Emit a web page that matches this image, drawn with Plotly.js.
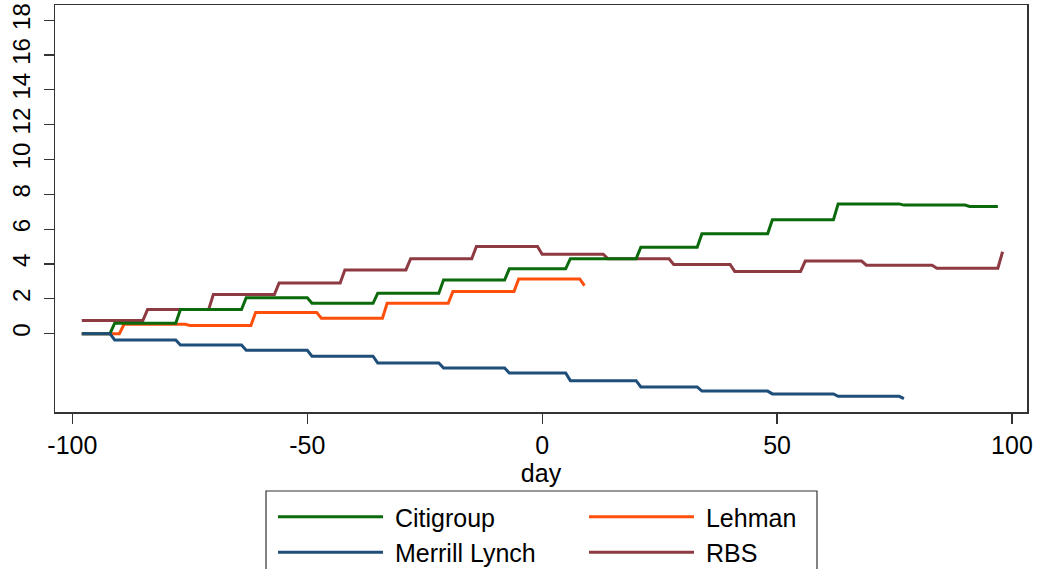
<!DOCTYPE html>
<html>
<head>
<meta charset="utf-8">
<script src="https://cdn.plot.ly/plotly-3.0.1.min.js"></script>
<style>
html,body{margin:0;padding:0;background:#fff;}
#chart{width:1039px;height:569px;}
</style>
</head>
<body>
<div id="chart"></div>
<script>
// ---- data (vertices of the step lines) ----
var citiDays = [-98,-92,-91,-78,-77,-64,-63,-50,-49,-36,-35,-22,-21,-8,-7,5,6,20,21,33,34,48,49,62,63,76,77,90,91,97];
var citiVals = [0,0,0.60,0.60,1.38,1.38,2.06,2.06,1.74,1.74,2.32,2.32,3.08,3.08,3.72,3.72,4.30,4.30,4.96,4.96,5.73,5.73,6.54,6.54,7.45,7.45,7.38,7.38,7.30,7.30];

var mlDays = [-98,-92,-91,-78,-77,-64,-63,-50,-49,-36,-35,-22,-21,-8,-7,5,6,20,21,33,34,48,49,62,63,76,77];
var mlVals = [0,0,-0.36,-0.36,-0.65,-0.65,-0.96,-0.96,-1.30,-1.30,-1.69,-1.69,-1.97,-1.97,-2.26,-2.26,-2.70,-2.70,-3.06,-3.06,-3.30,-3.30,-3.46,-3.46,-3.60,-3.60,-3.73];

var lehDays = [-98,-90,-89,-76,-75,-62,-61,-48,-47,-34,-33,-20,-19,-6,-5,8,9];
var lehVals = [0,0,0.54,0.54,0.47,0.47,1.22,1.22,0.88,0.88,1.74,1.74,2.42,2.42,3.14,3.14,2.76];

var rbsDays = [-98,-85,-84,-71,-70,-57,-56,-43,-42,-29,-28,-15,-14,-1,0,13,14,27,28,40,41,55,56,68,69,83,84,97,98];
var rbsVals = [0.75,0.75,1.38,1.38,2.24,2.24,2.91,2.91,3.66,3.66,4.30,4.30,5.00,5.00,4.56,4.56,4.30,4.30,3.97,3.97,3.57,3.57,4.17,4.17,3.93,3.93,3.76,3.76,4.70];

var seriesNames = ['Citigroup','Lehman','Merrill Lynch','RBS'];
var xTicks = [-100,-50,0,50,100];
var yTicks = [0,2,4,6,8,10,12,14,16,18];

// ---- styling ----
var colors = {'Citigroup':'#0b6a0b','Lehman':'#ff4f0a','Merrill Lynch':'#1f4e79','RBS':'#8e3a42'};
var W = 1039, H = 569;
var mL = 55, mR = 12, mT = 5, mB = 157;
var pw = W - mL - mR, ph = H - mT - mB;
function px2x(p){ return (p - mL) / pw; }
function py2y(p){ return (H - mB - p) / ph; }

var FONT = 'Arial, "Liberation Sans", Helvetica, sans-serif';
var GAP = '\u00a0'; // small gap between legend sample line and label

function mk(name, xs, ys, legend){
  return {
    type:'scatter', mode:'lines', name:GAP + name, x:xs, y:ys,
    line:{color:colors[name], width:3},
    legend:legend, legendgroup:name, hoverinfo:'x+y+name'
  };
}

var data = [
  mk('RBS', rbsDays, rbsVals, 'legend2'),
  mk('Lehman', lehDays, lehVals, 'legend2'),
  mk('Citigroup', citiDays, citiVals, 'legend'),
  mk('Merrill Lynch', mlDays, mlVals, 'legend')
];
data[0].legendrank = 2; data[1].legendrank = 1;
data[2].legendrank = 1; data[3].legendrank = 2;

// legend frame
var shapes = [{
  type:'rect', xref:'paper', yref:'paper',
  x0:px2x(266), x1:px2x(817), y0:py2y(491), y1:py2y(600),
  line:{color:'#333', width:1.2}, fillcolor:'rgba(0,0,0,0)', layer:'above'
}];

var legendCommon = {
  orientation:'v', xanchor:'left', yanchor:'top',
  font:{family:FONT, size:25, color:'#000'},
  bgcolor:'rgba(0,0,0,0)', borderwidth:0,
  itemwidth:105, tracegroupgap:0, itemclick:false, itemdoubleclick:false
};

var layout = {
  width:W, height:H,
  margin:{l:mL, r:mR, t:mT, b:mB, pad:0, autoexpand:false},
  paper_bgcolor:'#fff', plot_bgcolor:'#fff',
  font:{family:FONT, size:25, color:'#000'},
  showlegend:true,
  legend:Object.assign({}, legendCommon, {x:px2x(273), y:py2y(494)}),
  legend2:Object.assign({}, legendCommon, {x:px2x(584), y:py2y(494)}),
  xaxis:{
    range:[-103.7,103.2], tickvals:xTicks, ticktext:xTicks.map(String),
    ticks:'outside', ticklen:10, tickwidth:1.2, tickcolor:'#333',
    showline:true, linecolor:'#333', linewidth:1.5, mirror:true,
    showgrid:false, zeroline:false,
    tickfont:{family:FONT, size:25, color:'#000'},
    title:{text:'day', font:{family:FONT, size:25, color:'#000'}, standoff:0}
  },
  yaxis:{
    range:[-4.5,18.87], tickvals:yTicks, ticktext:yTicks.map(String),
    ticks:'outside', ticklen:10, tickwidth:1.2, tickcolor:'#333', tickangle:-90,
    ticklabelstandoff:4,
    showline:true, linecolor:'#333', linewidth:1.5, mirror:true,
    showgrid:false, zeroline:false,
    tickfont:{family:FONT, size:24, color:'#000'}
  },
  shapes:shapes
};

Plotly.newPlot('chart', data, layout, {displayModeBar:false, staticPlot:true});
</script>
</body>
</html>
